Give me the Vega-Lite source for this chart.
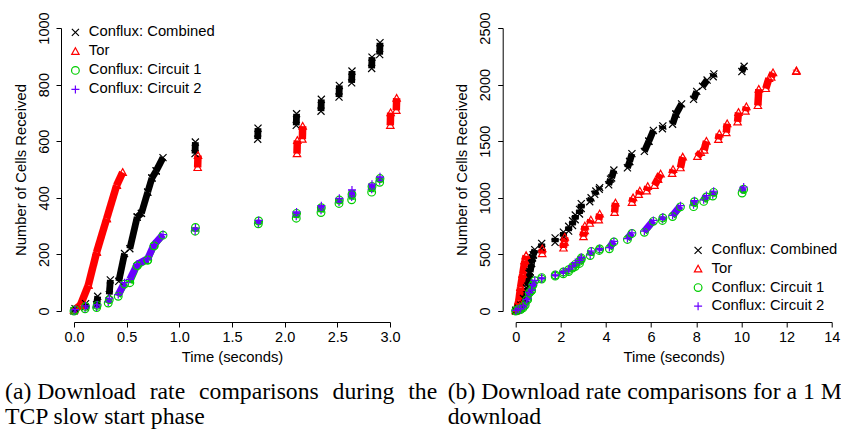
{
  "$schema": "https://vega.github.io/schema/vega-lite/v6.json",
  "background": "white",
  "padding": {"left": 5, "top": 11, "right": 0, "bottom": 0},
  "datasets": {
    "d": [
      {"s": "Conflux: Combined", "t0": 0, "c0": 0, "t1": 0.01, "c1": 8},
      {"s": "Conflux: Combined", "t0": 0.105, "c0": 14, "t1": 0.11, "c1": 26},
      {"s": "Conflux: Combined", "t0": 0.215, "c0": 22, "t1": 0.225, "c1": 52},
      {"s": "Conflux: Combined", "t0": 0.335, "c0": 58, "t1": 0.345, "c1": 110},
      {"s": "Conflux: Combined", "t0": 0.425, "c0": 105, "t1": 0.48, "c1": 203},
      {"s": "Conflux: Combined", "t0": 0.53, "c0": 220, "t1": 0.6, "c1": 332},
      {"s": "Conflux: Combined", "t0": 0.6, "c0": 332, "t1": 0.64, "c1": 345},
      {"s": "Conflux: Combined", "t0": 0.64, "c0": 345, "t1": 0.7, "c1": 420},
      {"s": "Conflux: Combined", "t0": 0.7, "c0": 420, "t1": 0.74, "c1": 470},
      {"s": "Conflux: Combined", "t0": 0.74, "c0": 470, "t1": 0.78, "c1": 495},
      {"s": "Conflux: Combined", "t0": 0.78, "c0": 495, "t1": 0.845, "c1": 542},
      {"s": "Conflux: Combined", "t0": 1.149, "c0": 556, "t1": 1.152, "c1": 597},
      {"s": "Conflux: Combined", "t0": 1.744, "c0": 607, "t1": 1.747, "c1": 646},
      {"s": "Conflux: Combined", "t0": 2.11, "c0": 656, "t1": 2.113, "c1": 697},
      {"s": "Conflux: Combined", "t0": 2.345, "c0": 706, "t1": 2.348, "c1": 748},
      {"s": "Conflux: Combined", "t0": 2.516, "c0": 756, "t1": 2.519, "c1": 797},
      {"s": "Conflux: Combined", "t0": 2.636, "c0": 806, "t1": 2.639, "c1": 848},
      {"s": "Conflux: Combined", "t0": 2.826, "c0": 857, "t1": 2.829, "c1": 897},
      {"s": "Conflux: Combined", "t0": 2.902, "c0": 906, "t1": 2.905, "c1": 948},
      {"s": "Conflux: Combined", "t0": 3.28, "c0": 965, "t1": 3.34, "c1": 1000},
      {"s": "Conflux: Combined", "t0": 3.5, "c0": 1030, "t1": 3.55, "c1": 1060},
      {"s": "Conflux: Combined", "t0": 3.7, "c0": 1075, "t1": 3.72, "c1": 1090},
      {"s": "Conflux: Combined", "t0": 4.12, "c0": 1115, "t1": 4.2, "c1": 1165},
      {"s": "Conflux: Combined", "t0": 4.25, "c0": 1175, "t1": 4.35, "c1": 1245},
      {"s": "Conflux: Combined", "t0": 4.95, "c0": 1265, "t1": 5.05, "c1": 1320},
      {"s": "Conflux: Combined", "t0": 5.05, "c0": 1320, "t1": 5.15, "c1": 1390},
      {"s": "Conflux: Combined", "t0": 5.7, "c0": 1410, "t1": 5.9, "c1": 1500},
      {"s": "Conflux: Combined", "t0": 5.9, "c0": 1500, "t1": 6.1, "c1": 1595},
      {"s": "Conflux: Combined", "t0": 6.5, "c0": 1610, "t1": 6.52, "c1": 1635},
      {"s": "Conflux: Combined", "t0": 6.95, "c0": 1650, "t1": 7.1, "c1": 1740},
      {"s": "Conflux: Combined", "t0": 7.1, "c0": 1740, "t1": 7.35, "c1": 1830},
      {"s": "Conflux: Combined", "t0": 7.88, "c0": 1870, "t1": 8.02, "c1": 1940},
      {"s": "Conflux: Combined", "t0": 8.28, "c0": 1985, "t1": 8.48, "c1": 2040},
      {"s": "Conflux: Combined", "t0": 8.75, "c0": 2070, "t1": 8.78, "c1": 2095},
      {"s": "Conflux: Combined", "t0": 10.02, "c0": 2115, "t1": 10.12, "c1": 2162},
      {"s": "Tor", "t0": 0, "c0": 3, "t1": 0.06, "c1": 20},
      {"s": "Tor", "t0": 0.06, "c0": 20, "t1": 0.136, "c1": 91},
      {"s": "Tor", "t0": 0.136, "c0": 91, "t1": 0.215, "c1": 208},
      {"s": "Tor", "t0": 0.215, "c0": 208, "t1": 0.31, "c1": 326},
      {"s": "Tor", "t0": 0.31, "c0": 326, "t1": 0.405, "c1": 444},
      {"s": "Tor", "t0": 0.405, "c0": 444, "t1": 0.462, "c1": 490},
      {"s": "Tor", "t0": 1.174, "c0": 507, "t1": 1.177, "c1": 550},
      {"s": "Tor", "t0": 2.117, "c0": 556, "t1": 2.12, "c1": 603},
      {"s": "Tor", "t0": 2.168, "c0": 607, "t1": 2.171, "c1": 653},
      {"s": "Tor", "t0": 3.003, "c0": 656, "t1": 3.006, "c1": 701},
      {"s": "Tor", "t0": 3.06, "c0": 709, "t1": 3.063, "c1": 752},
      {"s": "Tor", "t0": 3.28, "c0": 775, "t1": 3.33, "c1": 805},
      {"s": "Tor", "t0": 3.68, "c0": 805, "t1": 3.72, "c1": 858},
      {"s": "Tor", "t0": 4.38, "c0": 870, "t1": 4.42, "c1": 955},
      {"s": "Tor", "t0": 5.15, "c0": 960, "t1": 5.2, "c1": 1000},
      {"s": "Tor", "t0": 5.45, "c0": 1030, "t1": 5.5, "c1": 1060},
      {"s": "Tor", "t0": 5.8, "c0": 1060, "t1": 5.85, "c1": 1100},
      {"s": "Tor", "t0": 6.15, "c0": 1110, "t1": 6.3, "c1": 1165},
      {"s": "Tor", "t0": 6.3, "c0": 1165, "t1": 6.42, "c1": 1210},
      {"s": "Tor", "t0": 6.93, "c0": 1215, "t1": 6.97, "c1": 1250},
      {"s": "Tor", "t0": 7.3, "c0": 1265, "t1": 7.4, "c1": 1360},
      {"s": "Tor", "t0": 8.05, "c0": 1365, "t1": 8.2, "c1": 1400},
      {"s": "Tor", "t0": 8.35, "c0": 1420, "t1": 8.45, "c1": 1500},
      {"s": "Tor", "t0": 8.98, "c0": 1515, "t1": 9.02, "c1": 1565},
      {"s": "Tor", "t0": 9.33, "c0": 1575, "t1": 9.37, "c1": 1655},
      {"s": "Tor", "t0": 9.83, "c0": 1670, "t1": 9.87, "c1": 1755},
      {"s": "Tor", "t0": 10.18, "c0": 1765, "t1": 10.22, "c1": 1805},
      {"s": "Tor", "t0": 10.73, "c0": 1815, "t1": 10.77, "c1": 1960},
      {"s": "Tor", "t0": 11.08, "c0": 1965, "t1": 11.22, "c1": 2055},
      {"s": "Tor", "t0": 11.32, "c0": 2065, "t1": 11.4, "c1": 2105},
      {"s": "Tor", "t0": 12.43, "c0": 2116, "t1": 12.44, "c1": 2122},
      {"s": "Conflux: Circuit 1", "t0": 0, "c0": 0, "t1": 0.01, "c1": 4},
      {"s": "Conflux: Circuit 1", "t0": 0.105, "c0": 8, "t1": 0.11, "c1": 16},
      {"s": "Conflux: Circuit 1", "t0": 0.215, "c0": 12, "t1": 0.22, "c1": 20},
      {"s": "Conflux: Circuit 1", "t0": 0.325, "c0": 28, "t1": 0.335, "c1": 40},
      {"s": "Conflux: Circuit 1", "t0": 0.42, "c0": 52, "t1": 0.48, "c1": 95},
      {"s": "Conflux: Circuit 1", "t0": 0.53, "c0": 100, "t1": 0.6, "c1": 160},
      {"s": "Conflux: Circuit 1", "t0": 0.6, "c0": 160, "t1": 0.7, "c1": 180},
      {"s": "Conflux: Circuit 1", "t0": 0.7, "c0": 180, "t1": 0.76, "c1": 230},
      {"s": "Conflux: Circuit 1", "t0": 0.76, "c0": 230, "t1": 0.845, "c1": 268},
      {"s": "Conflux: Circuit 1", "t0": 1.15, "c0": 282, "t1": 1.153, "c1": 295},
      {"s": "Conflux: Circuit 1", "t0": 1.75, "c0": 308, "t1": 1.753, "c1": 318},
      {"s": "Conflux: Circuit 1", "t0": 2.11, "c0": 328, "t1": 2.113, "c1": 345},
      {"s": "Conflux: Circuit 1", "t0": 2.345, "c0": 348, "t1": 2.348, "c1": 365},
      {"s": "Conflux: Circuit 1", "t0": 2.516, "c0": 380, "t1": 2.519, "c1": 392},
      {"s": "Conflux: Circuit 1", "t0": 2.636, "c0": 393, "t1": 2.639, "c1": 412},
      {"s": "Conflux: Circuit 1", "t0": 2.826, "c0": 420, "t1": 2.829, "c1": 440},
      {"s": "Conflux: Circuit 1", "t0": 2.902, "c0": 455, "t1": 2.905, "c1": 468},
      {"s": "Conflux: Circuit 1", "t0": 3.3, "c0": 490, "t1": 3.35, "c1": 525},
      {"s": "Conflux: Circuit 1", "t0": 3.7, "c0": 535, "t1": 3.72, "c1": 548},
      {"s": "Conflux: Circuit 1", "t0": 4.15, "c0": 550, "t1": 4.35, "c1": 610},
      {"s": "Conflux: Circuit 1", "t0": 4.95, "c0": 632, "t1": 5.15, "c1": 685},
      {"s": "Conflux: Circuit 1", "t0": 5.7, "c0": 695, "t1": 6.1, "c1": 792},
      {"s": "Conflux: Circuit 1", "t0": 6.5, "c0": 800, "t1": 6.52, "c1": 822},
      {"s": "Conflux: Circuit 1", "t0": 6.95, "c0": 835, "t1": 7.3, "c1": 920},
      {"s": "Conflux: Circuit 1", "t0": 7.88, "c0": 922, "t1": 7.92, "c1": 965},
      {"s": "Conflux: Circuit 1", "t0": 8.33, "c0": 968, "t1": 8.45, "c1": 1008},
      {"s": "Conflux: Circuit 1", "t0": 8.73, "c0": 1015, "t1": 8.77, "c1": 1048},
      {"s": "Conflux: Circuit 1", "t0": 10.03, "c0": 1042, "t1": 10.1, "c1": 1075},
      {"s": "Conflux: Circuit 2", "t0": 0, "c0": 0, "t1": 0.01, "c1": 5},
      {"s": "Conflux: Circuit 2", "t0": 0.105, "c0": 10, "t1": 0.11, "c1": 18},
      {"s": "Conflux: Circuit 2", "t0": 0.215, "c0": 14, "t1": 0.22, "c1": 22},
      {"s": "Conflux: Circuit 2", "t0": 0.325, "c0": 32, "t1": 0.335, "c1": 45},
      {"s": "Conflux: Circuit 2", "t0": 0.42, "c0": 58, "t1": 0.48, "c1": 100},
      {"s": "Conflux: Circuit 2", "t0": 0.53, "c0": 112, "t1": 0.6, "c1": 165},
      {"s": "Conflux: Circuit 2", "t0": 0.6, "c0": 165, "t1": 0.7, "c1": 185},
      {"s": "Conflux: Circuit 2", "t0": 0.7, "c0": 185, "t1": 0.76, "c1": 235},
      {"s": "Conflux: Circuit 2", "t0": 0.76, "c0": 235, "t1": 0.845, "c1": 270},
      {"s": "Conflux: Circuit 2", "t0": 1.15, "c0": 283, "t1": 1.153, "c1": 293},
      {"s": "Conflux: Circuit 2", "t0": 1.75, "c0": 310, "t1": 1.753, "c1": 320},
      {"s": "Conflux: Circuit 2", "t0": 2.11, "c0": 335, "t1": 2.113, "c1": 350},
      {"s": "Conflux: Circuit 2", "t0": 2.345, "c0": 356, "t1": 2.348, "c1": 372},
      {"s": "Conflux: Circuit 2", "t0": 2.516, "c0": 385, "t1": 2.519, "c1": 398},
      {"s": "Conflux: Circuit 2", "t0": 2.636, "c0": 403, "t1": 2.639, "c1": 428},
      {"s": "Conflux: Circuit 2", "t0": 2.826, "c0": 430, "t1": 2.829, "c1": 448},
      {"s": "Conflux: Circuit 2", "t0": 2.902, "c0": 460, "t1": 2.905, "c1": 474},
      {"s": "Conflux: Circuit 2", "t0": 3.3, "c0": 495, "t1": 3.35, "c1": 530},
      {"s": "Conflux: Circuit 2", "t0": 3.7, "c0": 540, "t1": 3.72, "c1": 552},
      {"s": "Conflux: Circuit 2", "t0": 4.15, "c0": 560, "t1": 4.35, "c1": 615},
      {"s": "Conflux: Circuit 2", "t0": 4.95, "c0": 640, "t1": 5.15, "c1": 690},
      {"s": "Conflux: Circuit 2", "t0": 5.7, "c0": 705, "t1": 6.1, "c1": 800},
      {"s": "Conflux: Circuit 2", "t0": 6.5, "c0": 810, "t1": 6.52, "c1": 830},
      {"s": "Conflux: Circuit 2", "t0": 6.95, "c0": 845, "t1": 7.3, "c1": 930},
      {"s": "Conflux: Circuit 2", "t0": 7.88, "c0": 938, "t1": 7.92, "c1": 975},
      {"s": "Conflux: Circuit 2", "t0": 8.33, "c0": 982, "t1": 8.45, "c1": 1020},
      {"s": "Conflux: Circuit 2", "t0": 8.73, "c0": 1028, "t1": 8.77, "c1": 1058},
      {"s": "Conflux: Circuit 2", "t0": 10.03, "c0": 1068, "t1": 10.1, "c1": 1095}
    ]
  },
  "spacing": 125.7,
  "bounds": "flush",
  "hconcat": [
    {
      "width": 316,
      "height": 283,
      "data": {"name": "d"},
      "transform": [{"filter": "datum.t0 <= 3.1"}],
      "title": {
        "text": ["(a) Download \u00a0\u200arate \u00a0\u200acomparisons \u00a0\u200aduring \u00a0\u200athe", "TCP slow start phase"],
        "orient": "bottom", "anchor": "start", "frame": "group", "dx": -69, "offset": 16
      },
      "encoding": {
        "x": {"field": "t0", "type": "quantitative", "scale": {"domain": [0, 3], "nice": false, "zero": false},
              "axis": {"title": "Time (seconds)", "values": [0, 0.5, 1, 1.5, 2, 2.5, 3], "format": ".1f", "offset": 11, "labelPadding": 3, "titlePadding": 6, "labelFlush": false, "labelAngle": 0, "domainColor": "#000000", "tickColor": "#000000", "domainWidth": 1, "tickWidth": 1, "tickSize": 5}},
        "y": {"field": "c0", "type": "quantitative", "scale": {"domain": [0, 1000], "nice": false, "zero": false},
              "axis": {"title": "Number of Cells Received", "values": [0, 200, 400, 600, 800, 1000], "format": "d", "offset": 13, "labelAngle": 270, "labelAlign": "center", "labelBaseline": "bottom", "labelPadding": 5, "titlePadding": 8, "domainColor": "#000000", "tickColor": "#000000", "domainWidth": 1, "tickWidth": 1, "tickSize": 5}}
      },
      "layer": [
        {"transform": [{"filter": {"field": "s", "equal": "Conflux: Combined"}}],
         "mark": {"type": "rule", "strokeCap": "butt", "color": "#000000", "strokeWidth": 6.8},
         "encoding": {"x2": {"field": "t1"}, "y2": {"field": "c1"}}},
        {"transform": [{"filter": {"field": "s", "equal": "Tor"}}],
         "mark": {"type": "rule", "strokeCap": "butt", "color": "#FF0000", "strokeWidth": 7.5},
         "encoding": {"x2": {"field": "t1"}, "y2": {"field": "c1"}}},
        {"transform": [{"filter": {"field": "s", "equal": "Conflux: Circuit 1"}}],
         "mark": {"type": "rule", "strokeCap": "butt", "color": "#00CD00", "strokeWidth": 6},
         "encoding": {"x2": {"field": "t1"}, "y2": {"field": "c1"}}},
        {"transform": [{"filter": {"field": "s", "equal": "Conflux: Circuit 2"}}],
         "mark": {"type": "rule", "strokeCap": "butt", "color": "#6A00FF", "strokeWidth": 7},
         "encoding": {"x2": {"field": "t1"}, "y2": {"field": "c1"}}},
        {
          "mark": {"type": "point", "filled": false, "strokeWidth": 1.2, "opacity": 1},
          "encoding": {
            "color": {"field": "s", "type": "nominal", "scale": {"domain": ["Conflux: Combined", "Tor", "Conflux: Circuit 1", "Conflux: Circuit 2"], "range": ["#000000", "#FF0000", "#00CD00", "#6A00FF"]},
                      "legend": {"orient": "none", "legendX": -6, "legendY": -3, "title": null, "labelFontSize": 14.8, "labelOffset": 6, "rowPadding": 3}},
            "shape": {"field": "s", "type": "nominal", "scale": {"domain": ["Conflux: Combined", "Tor", "Conflux: Circuit 1", "Conflux: Circuit 2"], "range": ["M-1,-1L1,1M-1,1L1,-1", "M0,-1L1,0.8L-1,0.8Z", "circle", "M-1,0L1,0M0,-1L0,1"]},
                      "legend": {"orient": "none", "legendX": -6, "legendY": -3, "title": null, "labelFontSize": 14.8, "labelOffset": 6, "rowPadding": 3}},
            "size": {"field": "s", "type": "nominal", "scale": {"domain": ["Conflux: Combined", "Tor", "Conflux: Circuit 1", "Conflux: Circuit 2"], "range": [50, 64, 36, 56]},
                      "legend": {"orient": "none", "legendX": -6, "legendY": -3, "title": null, "labelFontSize": 14.8, "labelOffset": 6, "rowPadding": 3}}
          }
        },
        {
          "mark": {"type": "point", "filled": false, "strokeWidth": 1.2, "opacity": 1},
          "encoding": {
            "x": {"field": "t1", "type": "quantitative", "scale": {"domain": [0, 3], "nice": false, "zero": false},
              "axis": {"title": "Time (seconds)", "values": [0, 0.5, 1, 1.5, 2, 2.5, 3], "format": ".1f", "offset": 11, "labelPadding": 3, "titlePadding": 6, "labelFlush": false, "labelAngle": 0, "domainColor": "#000000", "tickColor": "#000000", "domainWidth": 1, "tickWidth": 1, "tickSize": 5}},
            "y": {"field": "c1", "type": "quantitative", "scale": {"domain": [0, 1000], "nice": false, "zero": false},
              "axis": {"title": "Number of Cells Received", "values": [0, 200, 400, 600, 800, 1000], "format": "d", "offset": 13, "labelAngle": 270, "labelAlign": "center", "labelBaseline": "bottom", "labelPadding": 5, "titlePadding": 8, "domainColor": "#000000", "tickColor": "#000000", "domainWidth": 1, "tickWidth": 1, "tickSize": 5}},
            "color": {"field": "s", "type": "nominal", "scale": {"domain": ["Conflux: Combined", "Tor", "Conflux: Circuit 1", "Conflux: Circuit 2"], "range": ["#000000", "#FF0000", "#00CD00", "#6A00FF"]},
                      "legend": {"orient": "none", "legendX": -6, "legendY": -3, "title": null, "labelFontSize": 14.8, "labelOffset": 6, "rowPadding": 3}},
            "shape": {"field": "s", "type": "nominal", "scale": {"domain": ["Conflux: Combined", "Tor", "Conflux: Circuit 1", "Conflux: Circuit 2"], "range": ["M-1,-1L1,1M-1,1L1,-1", "M0,-1L1,0.8L-1,0.8Z", "circle", "M-1,0L1,0M0,-1L0,1"]},
                      "legend": {"orient": "none", "legendX": -6, "legendY": -3, "title": null, "labelFontSize": 14.8, "labelOffset": 6, "rowPadding": 3}},
            "size": {"field": "s", "type": "nominal", "scale": {"domain": ["Conflux: Combined", "Tor", "Conflux: Circuit 1", "Conflux: Circuit 2"], "range": [50, 64, 36, 56]},
                      "legend": {"orient": "none", "legendX": -6, "legendY": -3, "title": null, "labelFontSize": 14.8, "labelOffset": 6, "rowPadding": 3}}
          }
        }
      ]
    },
    {
      "width": 316,
      "height": 283,
      "data": {"name": "d"},
      "title": {
        "text": ["(b) Download rate comparisons for a 1 MiB", "download"],
        "orient": "bottom", "anchor": "start", "frame": "group", "dx": -68, "offset": 16
      },
      "encoding": {
        "x": {"field": "t0", "type": "quantitative", "scale": {"domain": [0, 14], "nice": false, "zero": false},
              "axis": {"title": "Time (seconds)", "values": [0, 2, 4, 6, 8, 10, 12, 14], "format": "d", "offset": 11, "labelPadding": 3, "titlePadding": 6, "labelFlush": false, "labelAngle": 0, "domainColor": "#000000", "tickColor": "#000000", "domainWidth": 1, "tickWidth": 1, "tickSize": 5}},
        "y": {"field": "c0", "type": "quantitative", "scale": {"domain": [0, 2500], "nice": false, "zero": false},
              "axis": {"title": "Number of Cells Received", "values": [0, 500, 1000, 1500, 2000, 2500], "format": "d", "offset": 13, "labelAngle": 270, "labelAlign": "center", "labelBaseline": "bottom", "labelPadding": 5, "titlePadding": 8, "domainColor": "#000000", "tickColor": "#000000", "domainWidth": 1, "tickWidth": 1, "tickSize": 5}}
      },
      "layer": [
        {"transform": [{"filter": {"field": "s", "equal": "Conflux: Combined"}}],
         "mark": {"type": "rule", "strokeCap": "butt", "color": "#000000", "strokeWidth": 6.8},
         "encoding": {"x2": {"field": "t1"}, "y2": {"field": "c1"}}},
        {"transform": [{"filter": {"field": "s", "equal": "Tor"}}],
         "mark": {"type": "rule", "strokeCap": "butt", "color": "#FF0000", "strokeWidth": 7.5},
         "encoding": {"x2": {"field": "t1"}, "y2": {"field": "c1"}}},
        {"transform": [{"filter": {"field": "s", "equal": "Conflux: Circuit 1"}}],
         "mark": {"type": "rule", "strokeCap": "butt", "color": "#00CD00", "strokeWidth": 6},
         "encoding": {"x2": {"field": "t1"}, "y2": {"field": "c1"}}},
        {"transform": [{"filter": {"field": "s", "equal": "Conflux: Circuit 2"}}],
         "mark": {"type": "rule", "strokeCap": "butt", "color": "#6A00FF", "strokeWidth": 7},
         "encoding": {"x2": {"field": "t1"}, "y2": {"field": "c1"}}},
        {
          "mark": {"type": "point", "filled": false, "strokeWidth": 1.2, "opacity": 1},
          "encoding": {
            "color": {"field": "s", "type": "nominal", "scale": {"domain": ["Conflux: Combined", "Tor", "Conflux: Circuit 1", "Conflux: Circuit 2"], "range": ["#000000", "#FF0000", "#00CD00", "#6A00FF"]},
                      "legend": {"orient": "none", "legendX": 175, "legendY": 215, "title": null, "labelFontSize": 14.8, "labelOffset": 6, "rowPadding": 2.6}},
            "shape": {"field": "s", "type": "nominal", "scale": {"domain": ["Conflux: Combined", "Tor", "Conflux: Circuit 1", "Conflux: Circuit 2"], "range": ["M-1,-1L1,1M-1,1L1,-1", "M0,-1L1,0.8L-1,0.8Z", "circle", "M-1,0L1,0M0,-1L0,1"]},
                      "legend": {"orient": "none", "legendX": 175, "legendY": 215, "title": null, "labelFontSize": 14.8, "labelOffset": 6, "rowPadding": 2.6}},
            "size": {"field": "s", "type": "nominal", "scale": {"domain": ["Conflux: Combined", "Tor", "Conflux: Circuit 1", "Conflux: Circuit 2"], "range": [50, 64, 36, 56]},
                      "legend": {"orient": "none", "legendX": 175, "legendY": 215, "title": null, "labelFontSize": 14.8, "labelOffset": 6, "rowPadding": 2.6}}
          }
        },
        {
          "mark": {"type": "point", "filled": false, "strokeWidth": 1.2, "opacity": 1},
          "encoding": {
            "x": {"field": "t1", "type": "quantitative", "scale": {"domain": [0, 14], "nice": false, "zero": false},
              "axis": {"title": "Time (seconds)", "values": [0, 2, 4, 6, 8, 10, 12, 14], "format": "d", "offset": 11, "labelPadding": 3, "titlePadding": 6, "labelFlush": false, "labelAngle": 0, "domainColor": "#000000", "tickColor": "#000000", "domainWidth": 1, "tickWidth": 1, "tickSize": 5}},
            "y": {"field": "c1", "type": "quantitative", "scale": {"domain": [0, 2500], "nice": false, "zero": false},
              "axis": {"title": "Number of Cells Received", "values": [0, 500, 1000, 1500, 2000, 2500], "format": "d", "offset": 13, "labelAngle": 270, "labelAlign": "center", "labelBaseline": "bottom", "labelPadding": 5, "titlePadding": 8, "domainColor": "#000000", "tickColor": "#000000", "domainWidth": 1, "tickWidth": 1, "tickSize": 5}},
            "color": {"field": "s", "type": "nominal", "scale": {"domain": ["Conflux: Combined", "Tor", "Conflux: Circuit 1", "Conflux: Circuit 2"], "range": ["#000000", "#FF0000", "#00CD00", "#6A00FF"]},
                      "legend": {"orient": "none", "legendX": 175, "legendY": 215, "title": null, "labelFontSize": 14.8, "labelOffset": 6, "rowPadding": 2.6}},
            "shape": {"field": "s", "type": "nominal", "scale": {"domain": ["Conflux: Combined", "Tor", "Conflux: Circuit 1", "Conflux: Circuit 2"], "range": ["M-1,-1L1,1M-1,1L1,-1", "M0,-1L1,0.8L-1,0.8Z", "circle", "M-1,0L1,0M0,-1L0,1"]},
                      "legend": {"orient": "none", "legendX": 175, "legendY": 215, "title": null, "labelFontSize": 14.8, "labelOffset": 6, "rowPadding": 2.6}},
            "size": {"field": "s", "type": "nominal", "scale": {"domain": ["Conflux: Combined", "Tor", "Conflux: Circuit 1", "Conflux: Circuit 2"], "range": [50, 64, 36, 56]},
                      "legend": {"orient": "none", "legendX": 175, "legendY": 215, "title": null, "labelFontSize": 14.8, "labelOffset": 6, "rowPadding": 2.6}}
          }
        }
      ]
    }
  ],
  "resolve": {
    "scale": {"x": "independent", "y": "independent", "color": "independent", "shape": "independent", "size": "independent"},
    "legend": {"color": "independent", "shape": "independent", "size": "independent"}
  },
  "config": {
    "view": {"stroke": null},
    "font": "Liberation Sans",
    "axis": {
      "grid": false, "domain": true, "ticks": true, "domainColor": "#000000", "tickColor": "#000000", "labelColor": "#000000", "titleColor": "#000000",
      "labelFont": "Liberation Sans", "titleFont": "Liberation Sans", "labelFontSize": 14.5, "titleFontSize": 14.8,
      "titleFontWeight": "normal", "tickSize": 5, "domainWidth": 1, "tickWidth": 1, "domainOpacity": 1, "tickOpacity": 1
    },
    "legend": {
      "labelFont": "Liberation Sans", "labelFontSize": 14.8, "labelColor": "#000000", "padding": 0,
      "rowPadding": 3, "labelOffset": 6, "symbolStrokeWidth": 1.2
    },
    "title": {"font": "Liberation Serif", "fontSize": 23.7, "fontWeight": "normal", "color": "#000000", "lineHeight": 25}
  }
}
